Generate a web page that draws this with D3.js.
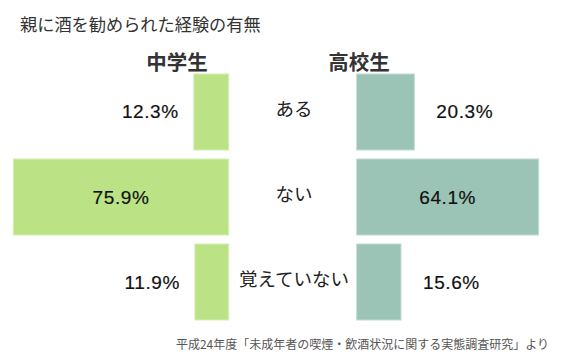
<!DOCTYPE html>
<html><head><meta charset="utf-8">
<script src="https://cdn.jsdelivr.net/npm/d3@7"></script>
<style>
body{margin:0;background:#fff;}
text{font-family:"Noto Sans CJK JP","Noto Sans",sans-serif;}
text.num{font-family:"Liberation Sans",Arial,sans-serif;}
</style></head>
<body><svg id="chart" width="565" height="360"></svg>
<script>
const title = "親に酒を勧められた経験の有無";
const groups = ["中学生", "高校生"];
const categories = ["ある", "ない", "覚えていない"];
const juniorHigh = [12.3, 75.9, 11.9];
const seniorHigh = [20.3, 64.1, 15.6];
const source = "平成24年度「未成年者の喫煙・飲酒状況に関する実態調査研究」より";

const svg = d3.select("#chart");
const colors = {left:"#bbe386", right:"#9bc4b6", leftEdge:"#d3efb3", rightEdge:"#bfdcd2"};
const leftEnd = 228.7, rightStart = 356.7;

const x = d3.scaleLinear().domain([0, 100]).range([0, 283.8]);
const y = d3.scaleBand().domain(categories).range([74, 320]).paddingInner(0.106).paddingOuter(0);

svg.append("text").attr("x", 20).attr("y", 23).attr("dominant-baseline","central")
  .attr("font-size", 17.2).attr("fill", "#333").text(title);

svg.append("text").attr("x", 177).attr("y", 61).attr("text-anchor","middle").attr("dominant-baseline","central")
  .attr("font-size", 20.5).attr("font-weight","bold").attr("fill","#333").text(groups[0]);
svg.append("text").attr("x", 359).attr("y", 61).attr("text-anchor","middle").attr("dominant-baseline","central")
  .attr("font-size", 20.5).attr("font-weight","bold").attr("fill","#333").text(groups[1]);

const rows = categories.map((c, i) => ({c, l: juniorHigh[i], r: seniorHigh[i]}));

svg.selectAll("rect.left").data(rows).join("rect").attr("class","left")
  .attr("x", d => leftEnd - x(d.l)).attr("y", d => y(d.c))
  .attr("width", d => x(d.l)).attr("height", y.bandwidth())
  .attr("fill", colors.left).attr("stroke", colors.leftEdge).attr("stroke-width", 1);

svg.selectAll("rect.right").data(rows).join("rect").attr("class","right")
  .attr("x", rightStart).attr("y", d => y(d.c))
  .attr("width", d => x(d.r)).attr("height", y.bandwidth())
  .attr("fill", colors.right).attr("stroke", colors.rightEdge).attr("stroke-width", 1);

const fmt = v => v.toFixed(1) + "%";

svg.selectAll("text.lv").data(rows).join("text").attr("class","lv num")
  .attr("x", d => d.l > 50 ? leftEnd - x(d.l)/2 : leftEnd - x(d.l) - 15)
  .attr("text-anchor", d => d.l > 50 ? "middle" : "end")
  .attr("y", d => y(d.c) + y.bandwidth()/2).attr("dominant-baseline","central")
  .attr("font-size", 19).attr("letter-spacing", 0.6)
  .attr("fill", "#111").attr("stroke", "#111").attr("stroke-width", 0.2)
  .text(d => fmt(d.l));

svg.selectAll("text.rv").data(rows).join("text").attr("class","rv num")
  .attr("x", d => d.r > 50 ? rightStart + x(d.r)/2 : rightStart + x(d.r) + 22)
  .attr("text-anchor", d => d.r > 50 ? "middle" : "start")
  .attr("y", d => y(d.c) + y.bandwidth()/2).attr("dominant-baseline","central")
  .attr("font-size", 19).attr("letter-spacing", 0.6)
  .attr("fill", "#111").attr("stroke", "#111").attr("stroke-width", 0.2)
  .text(d => fmt(d.r));

svg.selectAll("text.cat").data(rows).join("text").attr("class","cat")
  .attr("x", 294).attr("text-anchor","middle")
  .attr("y", d => y(d.c) + y.bandwidth()/2 - 4).attr("dominant-baseline","central")
  .attr("font-size", 18.5).attr("fill", "#222").text(d => d.c);

svg.append("text").attr("x", 549).attr("y", 343).attr("text-anchor","end").attr("dominant-baseline","central")
  .attr("font-size", 12).attr("fill", "#555").text(source);
</script></body></html>
